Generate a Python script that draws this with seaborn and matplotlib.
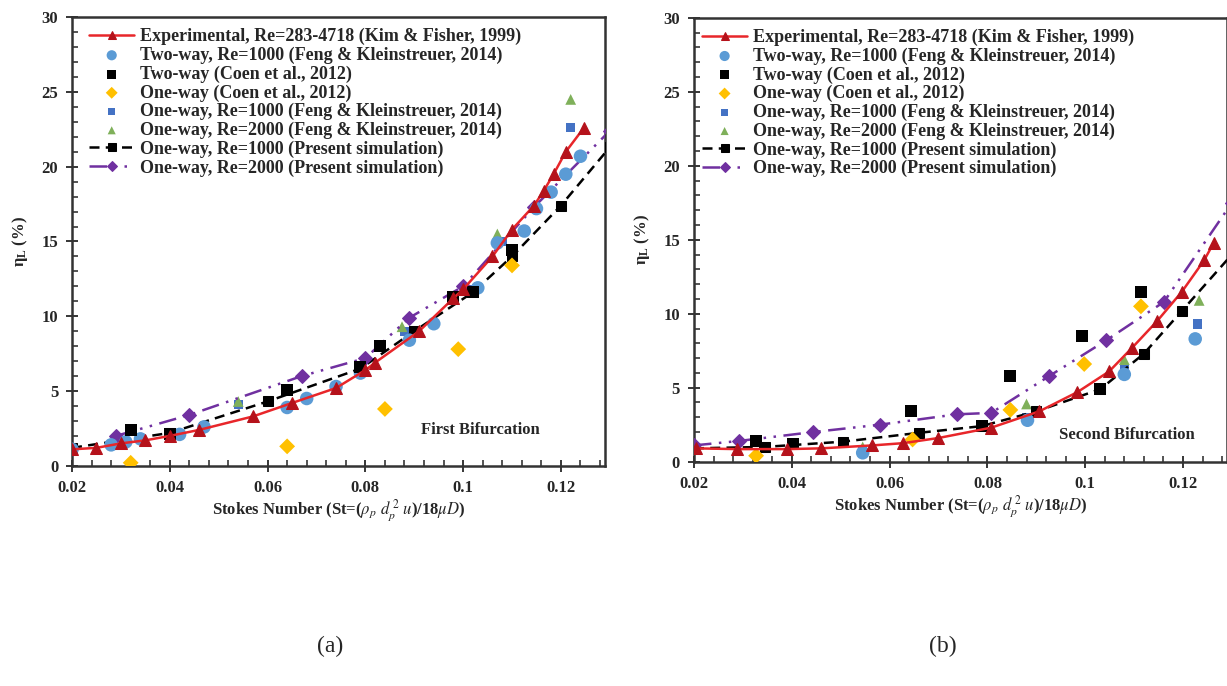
import numpy as np
import pandas as pd
import matplotlib
matplotlib.use("Agg")
import matplotlib.pyplot as plt
import seaborn as sns
from matplotlib.ticker import MultipleLocator

# ---------------- Data: panel (a) First Bifurcation ----------------
a_exp_x = [0.020, 0.025, 0.030, 0.035, 0.040, 0.046, 0.057, 0.065, 0.074, 0.080, 0.082,
           0.091, 0.098, 0.100, 0.106, 0.110, 0.1145, 0.1165, 0.1185, 0.121, 0.1247]
a_exp_y = [1.1, 1.2, 1.5, 1.7, 2.0, 2.4, 3.3, 4.2, 5.2, 6.4, 6.9,
           9.0, 11.2, 11.8, 14.0, 15.8, 17.4, 18.4, 19.5, 21.0, 22.6]

a_tw_feng_x = [0.020, 0.028, 0.031, 0.034, 0.042, 0.047, 0.064, 0.068, 0.074, 0.079,
               0.089, 0.094, 0.103, 0.107, 0.1125, 0.115, 0.118, 0.121, 0.124]
a_tw_feng_y = [1.1, 1.4, 1.6, 1.8, 2.1, 2.6, 3.9, 4.5, 5.3, 6.2,
               8.4, 9.5, 11.9, 14.9, 15.7, 17.2, 18.3, 19.5, 20.7]

a_tw_coen_x = [0.032, 0.040, 0.064, 0.079, 0.083, 0.098, 0.102, 0.110]
a_tw_coen_y = [2.4, 2.1, 5.1, 6.6, 8.0, 11.3, 11.6, 14.4]

a_ow_coen_x = [0.032, 0.064, 0.084, 0.099, 0.110]
a_ow_coen_y = [0.2, 1.3, 3.8, 7.8, 13.4]

a_ow1000_feng_x = [0.054, 0.079, 0.088, 0.102, 0.108, 0.122]
a_ow1000_feng_y = [4.1, 6.3, 9.0, 11.8, 15.0, 22.6]

a_ow2000_feng_x = [0.054, 0.0875, 0.107, 0.122]
a_ow2000_feng_y = [4.3, 9.3, 15.5, 24.5]

a_sim1000_x = [0.020, 0.040, 0.060, 0.079, 0.090, 0.102, 0.110, 0.120, 0.130]
a_sim1000_y = [1.2, 2.2, 4.3, 6.5, 9.0, 11.6, 14.0, 17.4, 21.3]

a_sim2000_x = [0.029, 0.044, 0.067, 0.080, 0.089, 0.100, 0.1145, 0.130]
a_sim2000_y = [2.0, 3.4, 6.0, 7.2, 9.9, 12.0, 17.3, 22.4]

# ---------------- Data: panel (b) Second Bifurcation ----------------
b_exp_x = [0.0205, 0.0288, 0.039, 0.046, 0.0565, 0.0627, 0.070, 0.0808, 0.0906, 0.0984,
           0.1049, 0.1096, 0.1147, 0.1198, 0.1243, 0.1263]
b_exp_y = [0.9, 0.85, 0.85, 0.9, 1.1, 1.25, 1.6, 2.3, 3.4, 4.7,
           6.1, 7.7, 9.5, 11.5, 13.6, 14.8]

b_tw_feng_x = [0.0545, 0.0882, 0.108, 0.1225]
b_tw_feng_y = [0.6, 2.8, 5.9, 8.3]

b_tw_coen_x = [0.0327, 0.0402, 0.0643, 0.0788, 0.0847, 0.0994, 0.1031, 0.1114]
b_tw_coen_y = [1.4, 1.2, 3.4, 2.4, 5.8, 8.5, 4.9, 11.5]

b_ow_coen_x = [0.0327, 0.0647, 0.0847, 0.0998, 0.1114]
b_ow_coen_y = [0.4, 1.5, 3.5, 6.6, 10.5]

b_ow1000_feng_x = [0.0545, 0.088, 0.108, 0.1229]
b_ow1000_feng_y = [0.8, 3.0, 6.2, 9.3]

b_ow2000_feng_x = [0.0545, 0.088, 0.108, 0.1233]
b_ow2000_feng_y = [1.0, 3.9, 6.9, 10.9]

b_sim1000_x = [0.020, 0.0345, 0.0504, 0.066, 0.0788, 0.0900, 0.1031, 0.1120, 0.1198, 0.1300]
b_sim1000_y = [0.9, 1.0, 1.35, 1.95, 2.4, 3.4, 4.9, 7.3, 10.2, 14.0]

b_sim2000_x = [0.020, 0.0292, 0.0443, 0.058, 0.0737, 0.0808, 0.0927, 0.1043, 0.1161, 0.1300]
b_sim2000_y = [1.1, 1.4, 2.0, 2.5, 3.2, 3.3, 5.8, 8.2, 10.8, 17.5]

labels = [
    "Experimental, Re=283-4718 (Kim & Fisher, 1999)",
    "Two-way, Re=1000 (Feng & Kleinstreuer, 2014)",
    "Two-way (Coen et al., 2012)",
    "One-way (Coen et al., 2012)",
    "One-way, Re=1000 (Feng & Kleinstreuer, 2014)",
    "One-way, Re=2000 (Feng & Kleinstreuer, 2014)",
    "One-way, Re=1000 (Present simulation)",
    "One-way, Re=2000 (Present simulation)",
]
x_ticks = [0.02, 0.04, 0.06, 0.08, 0.10, 0.12]
x_tick_labels = ["0.02", "0.04", "0.06", "0.08", "0.1", "0.12"]
y_ticks = [0, 5, 10, 15, 20, 25, 30]

# ---------------- Style ----------------
sns.set_theme(style="ticks")
plt.rcParams["font.family"] = ["Liberation Serif", "DejaVu Serif"]
plt.rcParams["mathtext.fontset"] = "stix"

RED_LINE = "#E8262A"
RED_MK = "#B5121B"
LBLUE = "#5B9BD5"
BLUE = "#4472C4"
YELLOW = "#FFC000"
GREEN = "#7FB05A"
PURPLE = "#7030A0"

fig = plt.figure(figsize=(12.27, 6.86), dpi=100)
ax_a = fig.add_axes([0.0587, 0.321, 0.4343, 0.654])
ax_b = fig.add_axes([0.5656, 0.327, 0.4344, 0.647])


def df(x, y):
    return pd.DataFrame({"x": x, "y": y})


def draw(ax, d, note, note_xy, leg_x):
    (ex, ey, twfx, twfy, twcx, twcy, owcx, owcy, o1x, o1y, o2x, o2y, s1x, s1y, s2x, s2y) = d
    sns.lineplot(data=df(ex, ey), x="x", y="y", ax=ax, sort=False, color=RED_LINE, lw=1.8,
                 marker="^", markersize=8, markerfacecolor=RED_MK, markeredgecolor=RED_MK,
                 label=labels[0], zorder=5)
    sns.scatterplot(data=df(twfx, twfy), x="x", y="y", ax=ax, color=LBLUE, marker="o", s=95,
                    edgecolor="none", label=labels[1], zorder=4)
    sns.scatterplot(data=df(twcx, twcy), x="x", y="y", ax=ax, color="black", marker="s", s=75,
                    edgecolor="none", label=labels[2], zorder=4)
    sns.scatterplot(data=df(owcx, owcy), x="x", y="y", ax=ax, color=YELLOW, marker="D", s=65,
                    edgecolor="none", label=labels[3], zorder=4)
    sns.scatterplot(data=df(o1x, o1y), x="x", y="y", ax=ax, color=BLUE, marker="s", s=45,
                    edgecolor="none", label=labels[4], zorder=3)
    sns.scatterplot(data=df(o2x, o2y), x="x", y="y", ax=ax, color=GREEN, marker="^", s=60,
                    edgecolor="none", label=labels[5], zorder=3)
    sns.lineplot(data=df(s1x, s1y), x="x", y="y", ax=ax, sort=False, color="black", lw=1.8,
                 dashes=(4, 2.5), marker="s", markersize=7, markeredgecolor="black",
                 label=labels[6], zorder=3)
    sns.lineplot(data=df(s2x, s2y), x="x", y="y", ax=ax, sort=False, color=PURPLE, lw=1.8,
                 dashes=(7, 3, 1, 3, 1, 3), marker="D", markersize=7, markeredgecolor=PURPLE,
                 label=labels[7], zorder=3)

    ax.set_xlim(0.02, 0.129)
    ax.set_ylim(0, 30)
    ax.set_xticks(x_ticks)
    ax.set_xticklabels(x_tick_labels)
    ax.set_yticks(y_ticks)
    ax.xaxis.set_minor_locator(MultipleLocator(0.004))
    ax.yaxis.set_minor_locator(MultipleLocator(1))
    ax.tick_params(axis="both", which="major", direction="inout", length=8, width=1.3,
                   labelsize=12, pad=6)
    ax.tick_params(axis="both", which="minor", direction="in", length=4, width=1.1)
    for lab in ax.get_xticklabels() + ax.get_yticklabels():
        lab.set_fontweight("bold")
    for sp in ax.spines.values():
        sp.set_visible(True)
        sp.set_linewidth(1.8)
        sp.set_color("#333333")
    ax.set_xlabel(r"Stokes Number (St=($\rho_p$ $d_p^{\,2}$ $u$)/18$\mu D$)",
                  fontsize=12, fontweight="bold", labelpad=1)
    ax.set_ylabel(r"$\mathregular{\eta_L}$ (%)", fontsize=12, fontweight="bold", labelpad=8)
    ax.text(note_xy[0], note_xy[1], note, fontsize=12, fontweight="bold", ha="center",
            va="center")
    leg = ax.legend(loc="upper left", bbox_to_anchor=(leg_x, 1.008), frameon=False,
                    prop={"family": "Liberation Serif", "weight": "bold", "size": 13},
                    handlelength=2.5, handletextpad=0.3, labelspacing=0.08,
                    borderaxespad=0.4, markerscale=0.75)
    return leg


draw(ax_a, (a_exp_x, a_exp_y, a_tw_feng_x, a_tw_feng_y, a_tw_coen_x, a_tw_coen_y,
            a_ow_coen_x, a_ow_coen_y, a_ow1000_feng_x, a_ow1000_feng_y,
            a_ow2000_feng_x, a_ow2000_feng_y, a_sim1000_x, a_sim1000_y,
            a_sim2000_x, a_sim2000_y), "First Bifurcation", (0.1035, 2.4), 0.005)
draw(ax_b, (b_exp_x, b_exp_y, b_tw_feng_x, b_tw_feng_y, b_tw_coen_x, b_tw_coen_y,
            b_ow_coen_x, b_ow_coen_y, b_ow1000_feng_x, b_ow1000_feng_y,
            b_ow2000_feng_x, b_ow2000_feng_y, b_sim1000_x, b_sim1000_y,
            b_sim2000_x, b_sim2000_y), "Second Bifurcation", (0.1085, 1.8), -0.012)

fig.text(0.269, 0.058, "(a)", fontsize=17, ha="center", va="center")
fig.text(0.7685, 0.058, "(b)", fontsize=17, ha="center", va="center")

fig.savefig("out.png", dpi=100)
